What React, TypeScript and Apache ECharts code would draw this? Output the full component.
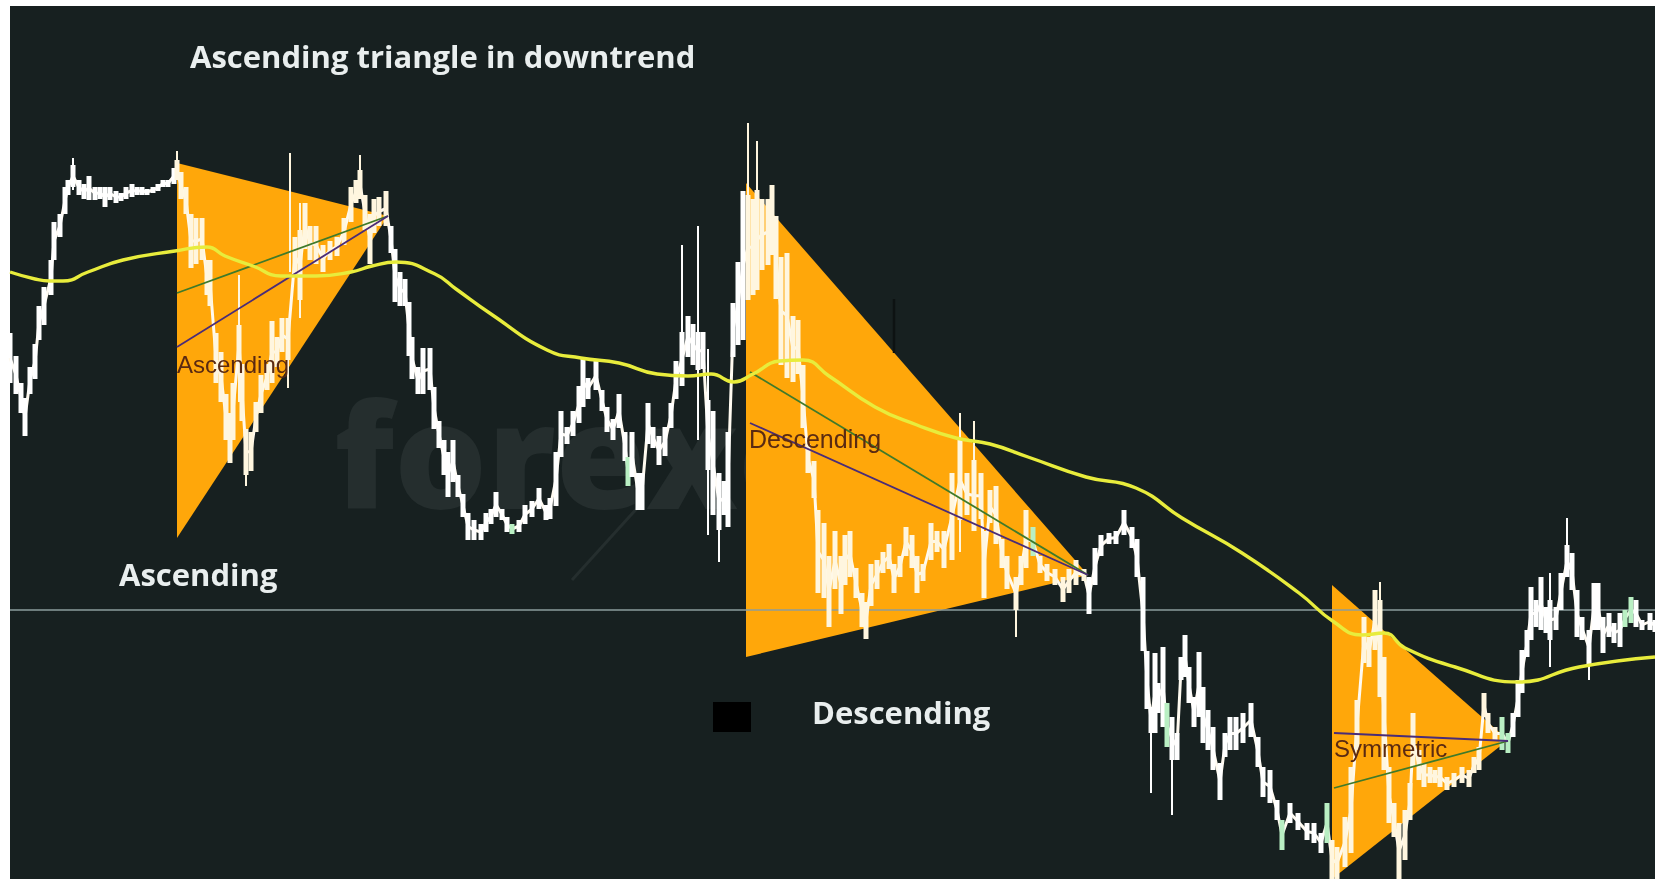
import React, { useEffect, useRef } from "react";
import * as echarts from "echarts";

// Price columns: [bar position, high level, low level]; the y scale runs downwards like the screen.
const pricePartA = [
  [10,333,383],[16,356,394],[21,383,413],[25,398,436],[30,367,394],[35,344,379],[39,306,340],[44,287,325],[51,260,295],[54,222,260],[60,214,237],[65,187,214],[68,180,195],[73,165,187],[79,180,195],[84,184,199],[89,176,200],[95,187,200],[100,187,199],[105,187,207],[110,187,200],[116,191,203],[121,193,201],[126,187,199],[132,184,197],[137,187,195],[142,187,195],[147,189,195],[153,187,193],[158,184,191],[163,180,187],[168,180,187],[174,168,184],[177,160,180],
  [181,172,199],[186,187,214],[191,214,268],[196,218,264],[202,218,260],[207,260,295],[210,260,306],[216,333,383],[221,352,402],[226,394,440],[230,413,463],[233,383,440],[239,325,364],[242,364,421],[246,429,475],[251,432,471],[256,402,432],[261,375,413],[267,364,390],[272,321,383],[277,337,367],[282,318,352],[288,318,360],[295,237,276],[300,230,300],[305,203,249],[310,226,260],[316,226,264],[323,245,272],[330,241,260],[337,237,256],[344,218,245],[351,187,222],[356,180,203],[360,170,199],[365,195,230],[370,214,264],[374,199,233],[379,197,226],[386,191,226],[391,226,253],[395,249,302],[400,272,306],[405,279,306],[409,302,356],[412,337,379],[418,367,394],[423,348,394],[430,348,390],[434,387,429],[439,421,448],[444,440,475],[448,452,497],[453,440,482],[458,475,497],[463,494,517],[468,513,540],[474,520,540],[481,524,540],[486,513,532],[491,509,524],[496,492,517],[502,509,520],[507,517,532],[512,524,534],[519,520,532],[525,505,524],[532,501,517],[539,488,509],[546,505,520],
];
const pricePartB = [
  [550,498,519],[556,452,506],[561,411,457],[567,427,444],[573,411,436],[579,386,423],[583,357,407],[588,378,399],[596,361,390],[602,390,411],[607,407,432],[613,419,440],[619,394,428],[625,432,461],[628,457,486],[632,432,477],[638,473,510],[642,473,510],[648,403,444],[653,427,448],[659,436,465],[665,427,456],[671,403,428],[676,361,399],[682,332,386],[688,316,357],[693,324,365],[698,332,370],[703,332,369],[708,400,470],[713,411,515],[719,473,530],[724,481,515],[728,432,527],[733,303,357],[738,262,345],[743,191,340],[748,195,300],[753,199,295],[757,190,290],[762,199,270],[768,199,265],[772,185,255],[776,216,299],[781,257,365],[787,253,378],[793,316,382],[798,320,374],[803,365,428],[808,444,473],[814,461,498],[818,510,593],[824,523,598],[829,556,627],[835,531,589],[841,556,614],[845,535,585],[850,531,577],[856,568,598],[862,593,627],[866,602,639],[871,564,606],[877,560,589],[883,552,573],[889,544,569],[894,564,593],[900,556,577],[906,527,556],[912,535,568],[917,556,593],[923,564,581],[931,523,560],[937,531,552],[944,531,568],[952,473,560],[960,440,520],[967,473,515],[974,460,531],[981,473,519],[984,531,598],[990,490,523],[996,486,544],[1002,539,568],[1007,556,589],[1016,577,610],[1021,556,585],[1026,510,568],[1033,527,556],[1040,556,573],[1047,564,581],[1055,569,585],[1063,577,602],[1069,569,593],[1076,560,585],[1084,569,581],[1089,577,614],[1095,548,585],[1101,535,556],[1109,533,544],[1116,531,544],[1124,510,535],[1132,527,548],[1137,539,577],[1143,577,651],[1147,651,709],
];
const pricePartC = [
  [1151,707,733],[1155,653,733],[1158,683,713],[1163,647,727],[1167,703,747],[1172,717,760],[1177,733,760],[1181,657,680],[1185,635,677],[1189,667,703],[1194,697,727],[1199,652,717],[1203,687,743],[1208,710,750],[1213,727,770],[1220,763,800],[1225,733,757],[1230,717,750],[1236,717,750],[1243,713,743],[1251,703,737],[1258,737,767],[1263,767,797],[1270,770,803],[1277,800,820],[1282,820,850],[1290,803,823],[1298,813,830],[1307,823,840],[1314,823,843],[1321,833,853],[1327,803,843],[1332,840,879],[1337,847,879],[1345,817,867],[1351,767,853],[1357,700,750],[1364,617,663],[1369,637,667],[1375,590,650],[1380,600,697],[1384,657,770],[1389,767,823],[1394,803,837],[1399,823,879],[1405,810,860],[1410,783,820],[1413,713,767],[1419,750,780],[1424,763,787],[1430,767,783],[1435,770,783],[1440,767,787],[1447,777,790],[1454,773,787],[1462,767,783],[1469,770,787],[1474,757,773],[1479,747,770],[1484,693,717],[1488,713,733],[1495,727,740],[1502,717,750],[1508,733,753],[1513,713,737],[1518,680,717],[1522,650,693],[1527,630,657],[1531,587,640],[1536,600,627],[1541,577,630],[1546,607,633],[1550,600,640],[1556,607,630],[1561,573,610],[1567,545,577],[1572,553,590],[1577,590,637],[1582,617,640],[1589,630,665],[1594,583,630],[1598,583,630],[1603,617,653],[1609,613,637],[1614,623,643],[1620,613,647],[1625,610,627],[1631,597,623],[1636,600,627],[1642,620,630],[1650,613,630],[1655,620,632],
];
// Thin spikes: [bar position, high level, low level]
const priceSpikes = [
  [73,158,190],[177,151,180],[239,275,402],[246,429,486],[288,318,388],[290,153,272],[300,203,318],[360,155,199],
  [682,245,386],[698,226,440],[708,349,535],[719,473,562],[728,432,527],[748,123,216],[757,141,229],[960,413,552],[974,421,531],[1016,577,637],[1089,577,614],
  [1151,707,793],[1172,717,815],[1380,582,697],[1550,573,667],[1567,518,577],[1589,630,680],
];
// Bars that the reference shows in pale green
const greenBars = [512,628,1033,1167,1282,1327,1502,1508,1625,1631];
const triangleSpans = [[177,388],[746,1088],[1332,1508]];

const movingAverage = [
  [10,272],[35,279],[50,281],[63,281],[88,272],[123,260],[175,251],[207,247],[225,256],[253,266],[281,276],[316,276],[351,272],[372,266],[396,262],[435,274],[456,289],[491,314],[547,350],[581,358],[619,363],[657,374],[688,376],[711,374],[734,382],[753,374],[780,361],[803,360],[829,376],[875,407],[917,425],[956,438],[990,444],[1028,457],[1086,477],[1136,488],[1182,518],[1242,553],[1299,593],[1334,622],[1362,635],[1384,633],[1405,648],[1455,667],[1518,682],[1579,667],[1655,657],
];
const triangles = [
  [[177,163],[388,216],[177,538]],
  [[746,183],[1088,575],[746,657]],
  [[1332,585],[1508,740],[1332,879]],
];
const greenTrends = [[[177,293],[388,216]],[[750,372],[1088,575]],[[1334,788],[1508,741]]];
const purpleTrends = [[[177,347],[388,216]],[[750,423],[1088,575]],[[1334,733],[1508,741]]];
const referenceLevel = 610;
const darkTick = [[894,299],[894,353]];
const blackBox = [[713,702],[751,732]];
const leafStroke = [[572,580],[640,505]];

const priceBars = [...pricePartA, ...pricePartB, ...pricePartC];
const priceMids = priceBars.map((b) => [b[0], (b[1] + b[2]) / 2]);

function columnColor(x: number) {
  if (greenBars.includes(x)) return "#b9efc3";
  return triangleSpans.some(([a, b]) => x >= a && x <= b) ? "#fff6df" : "#ffffff";
}

function columns(width: number) {
  return (_: any, api: any) => {
    const x = api.value(0);
    const a = api.coord([x, api.value(1)]);
    const b = api.coord([x, api.value(2)]);
    return {
      type: "rect",
      shape: { x: a[0] - width / 2, y: a[1], width, height: b[1] - a[1] },
      style: { fill: columnColor(x) },
    };
  };
}

function segment(name: string, pts: number[][], color: string, width: number, z: number, smooth = false) {
  return {
    type: "line", name, data: pts, showSymbol: false, symbol: "none", silent: true, z, smooth,
    lineStyle: { color, width, cap: "butt" }, clip: true,
  };
}

export default function App() {
  const ref = useRef<HTMLDivElement>(null);
  useEffect(() => {
    const chart = echarts.init(ref.current!, null, { renderer: "svg" });
    const label = (text: string, x: number, y: number, size: number, weight: any, color: string, family: string) => ({
      type: "text", x, y, z: 20,
      style: { text, fill: color, font: `${weight} ${size}px ${family}`, textVerticalAlign: "middle", textBaseline: "middle" },
    });
    chart.setOption({
      animation: false,
      grid: { left: 10, top: 6, right: 0, bottom: 0, show: true, backgroundColor: "#172020", borderWidth: 0 },
      xAxis: { type: "value", min: 10, max: 1655, show: false, splitLine: { show: false } },
      yAxis: { type: "value", min: 6, max: 879, inverse: true, show: false, splitLine: { show: false } },
      graphic: [
        { type: "text", x: 334, y: 452, z: 1, style: { text: "forexop", fill: "#252e2e", font: "800 146px 'Open Sans'", textBaseline: "middle", textVerticalAlign: "middle" } },
        label("Ascending triangle in downtrend", 190, 56, 31, 700, "#e9eeee", "'Open Sans'"),
        label("Ascending", 119, 574, 31, 700, "#e9eeee", "'Open Sans'"),
        label("Descending", 812, 712, 31, 700, "#e9eeee", "'Open Sans'"),
        label("Ascending", 177, 364, 24, 400, "#5a2a12", "'Liberation Sans'"),
        label("Descending", 749, 439, 25, 400, "#5a2a12", "'Liberation Sans'"),
        label("Symmetric", 1334, 748, 24, 400, "#5a2a12", "'Liberation Sans'"),
      ],
      series: [
        segment("leaf", leafStroke, "#252e2e", 3, 1),
        ...triangles.map((pts, i) => ({
          type: "custom", name: `triangle${i}`, z: 2, silent: true, clip: true, data: [0],
          renderItem: (_: any, api: any) => ({
            type: "polygon",
            shape: { points: pts.map((p) => api.coord(p)) },
            style: { fill: "#ffa70a" },
          }),
        })),
        segment("level", [[10, referenceLevel], [1655, referenceLevel]], "#8d9c9c", 1.5, 3),
        segment("tick", darkTick, "#0d1212", 2.5, 3),
        {
          type: "custom", name: "box", z: 3, silent: true, data: [0],
          renderItem: (_: any, api: any) => {
            const a = api.coord(blackBox[0]); const b = api.coord(blackBox[1]);
            return { type: "rect", shape: { x: a[0], y: a[1], width: b[0] - a[0], height: b[1] - a[1] }, style: { fill: "#000" } };
          },
        },
        segment("priceMid", priceMids, "#fffaf0", 3, 4),
        { type: "custom", name: "spikes", z: 5, silent: true, clip: true, data: priceSpikes, encode: { x: 0, y: [1, 2] }, renderItem: columns(2) },
        { type: "custom", name: "price", z: 5, silent: true, clip: true, data: priceBars, encode: { x: 0, y: [1, 2] }, renderItem: columns(5) },
        ...greenTrends.map((t, i) => segment(`green${i}`, t, "#3f7a2a", 1.8, 6)),
        ...purpleTrends.map((t, i) => segment(`purple${i}`, t, "#4a2c78", 1.8, 6)),
        segment("ma", movingAverage, "#e8ec3c", 3.4, 7, true),
      ],
    });
    return () => chart.dispose();
  }, []);
  return <div ref={ref} style={{ position: "fixed", left: 0, top: 0, width: 1655, height: 879, filter: "blur(0.5px)" }} />;
}
